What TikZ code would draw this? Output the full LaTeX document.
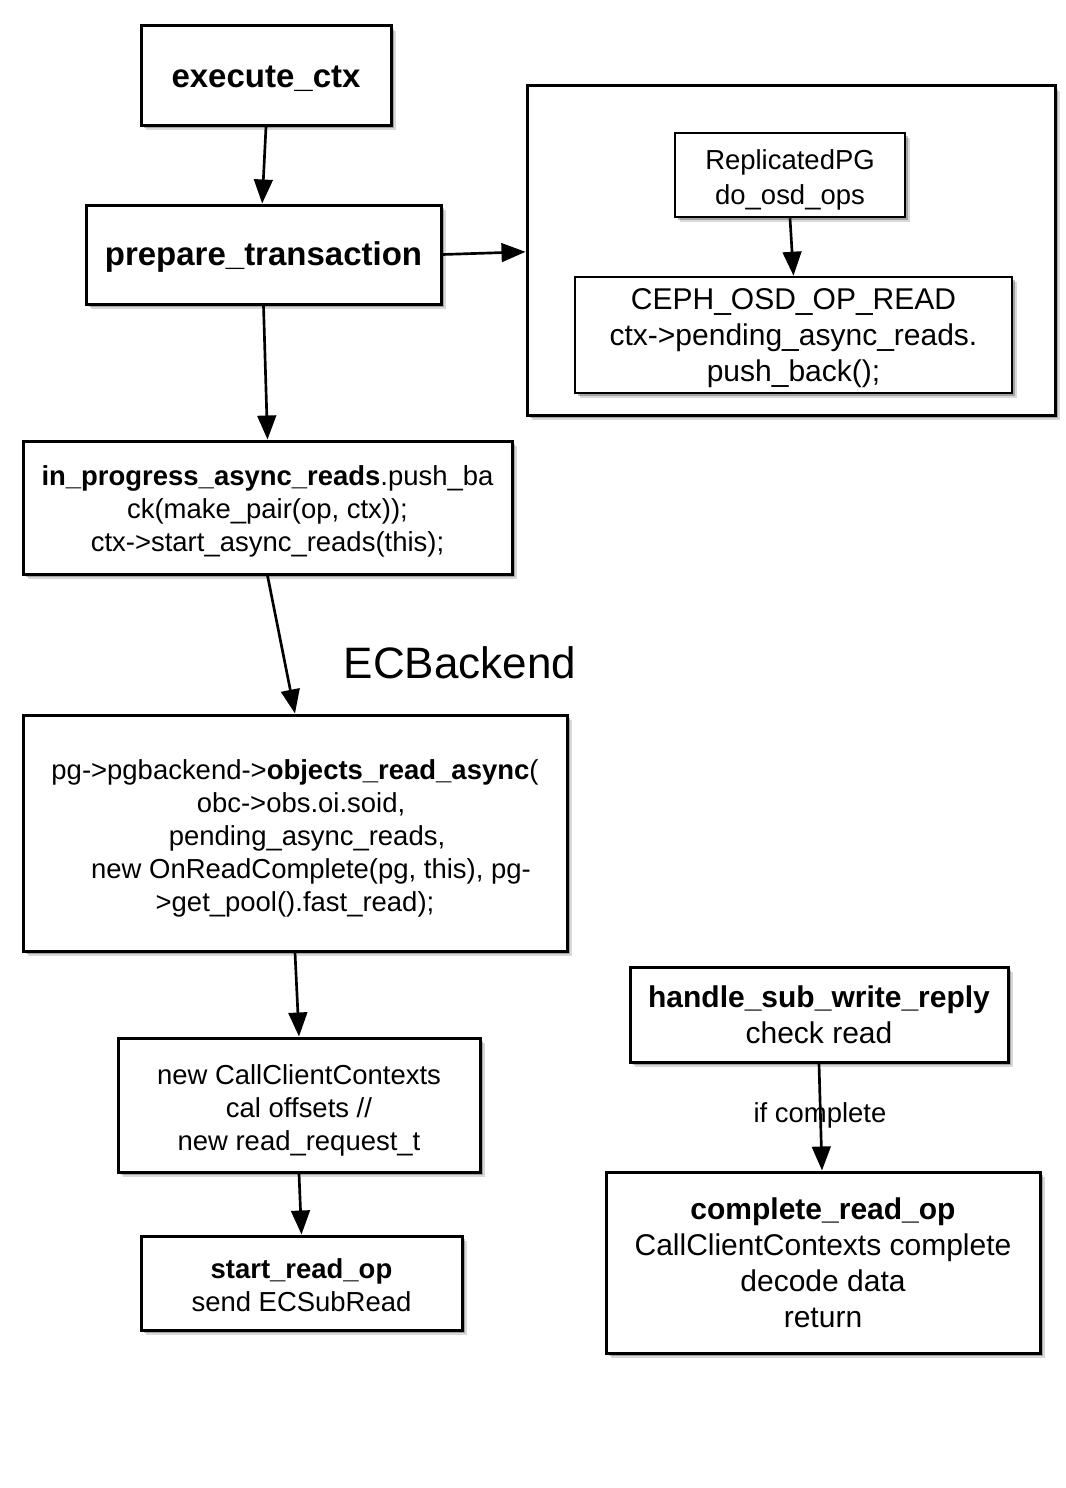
\documentclass[tikz,border=0pt]{standalone}
\usepackage{fontspec}
\setmainfont{Liberation Sans}
\usetikzlibrary{arrows.meta,shadows}
\def\pxu{*0.75pt}
\newcommand\fsbig{\fontsize{24.75pt}{29pt}\selectfont}
\newcommand\fsmid{\fontsize{22.5pt}{27pt}\selectfont}
\newcommand\fsnorm{\fontsize{20.6pt}{24.75pt}\selectfont}
\newcommand\fsnormb{\fontsize{20.6pt}{26.25pt}\selectfont}
\newcommand\fslabel{\fontsize{33pt}{38pt}\selectfont}
% raises the top of the first line, moving the text block down by half the amount
\newcommand\dn[1]{\raisebox{#1}{\vphantom{Ag(}}}
\tikzset{
  box/.style={draw=black, line width=2.25pt, fill=white, inner sep=0pt, align=center,
    drop shadow={shadow xshift=3.5pt, shadow yshift=-3.5pt, fill=black, opacity=0.15},
    drop shadow={shadow xshift=2pt, shadow yshift=-2pt, fill=black, opacity=0.25}},
  thinbox/.style={box, line width=1.9pt},
  arr/.style={line width=2pt, -{Triangle[length=18pt,width=14pt]}},
}
\begin{document}
\begin{tikzpicture}[x=0.75pt,y=-0.75pt]
\path[use as bounding box] (0,0) rectangle (1066,1488);

\node[box, minimum width=250\pxu, minimum height=99\pxu, font=\fsbig\bfseries] (exec) at (266,75.5) {\dn{3.5pt}execute\_ctx};
\node[box, minimum width=355\pxu, minimum height=99\pxu, font=\fsbig\bfseries] (prep) at (263.5,254.5) {\dn{3pt}prepare\_transaction};

\node[box, minimum width=528\pxu, minimum height=329\pxu] (outer) at (791,250.5) {};
\node[thinbox, minimum width=230\pxu, minimum height=84\pxu, font=\fsnormb] (repl) at (790,175) {\dn{7.5pt}ReplicatedPG\\do\_osd\_ops};
\node[thinbox, minimum width=437\pxu, minimum height=116\pxu, font=\fsmid] (ceph) at (793.5,335) {\dn{3.5pt}CEPH\_OSD\_OP\_READ\\ctx->pending\_async\_reads.\\push\_back();};

\node[box, minimum width=489\pxu, minimum height=133\pxu, font=\fsnorm] (inprog) at (267.5,507.5)
  {\dn{6.5pt}\textbf{in\_progress\_async\_reads}.push\_ba\\ck(make\_pair(op, ctx));\\ctx->start\_async\_reads(this);};

\node[font=\fslabel, inner sep=0pt] (ecb) at (460,663) {ECBackend};

\node[box, minimum width=544\pxu, minimum height=236\pxu, font=\fsnorm] (objs) at (295,833)
  {\dn{7.5pt}pg->pgbackend->\textbf{objects\_read\_async}(\\\hspace*{9pt}obc->obs.oi.soid,\\\hspace*{18pt}pending\_async\_reads,\\\hspace*{24pt}new OnReadComplete(pg, this), pg-\\>get\_pool().fast\_read);};

\node[box, minimum width=362\pxu, minimum height=134\pxu, font=\fsnorm] (ccc) at (299,1105)
  {\dn{7.5pt}new CallClientContexts\\cal offsets //\\new read\_request\_t};

\node[box, minimum width=321\pxu, minimum height=94\pxu, font=\fsnorm] (start) at (301.5,1283)
  {\dn{3pt}\textbf{start\_read\_op}\\send ECSubRead};

\node[box, minimum width=378\pxu, minimum height=95\pxu, font=\fsmid] (handle) at (819,1014.5)
  {\textbf{handle\_sub\_write\_reply}\\check read};

\node[box, minimum width=434\pxu, minimum height=181\pxu, font=\fsmid] (complete) at (823,1262.5)
  {\textbf{complete\_read\_op}\\CallClientContexts complete\\decode data\\return};

\node[font=\fsnorm, inner sep=0pt] (ifc) at (820,1115) {if complete};

\draw[arr] (exec.south) -- ([xshift=-1pt]prep.north);
\draw[arr] (prep.east) -- ([yshift=-1pt]outer.west);
\draw[arr] (prep.south) -- (inprog.north);
\draw[arr] (repl.south) -- (ceph.north);
\draw[arr] (inprog.south) -- (objs.north);
\draw[arr] (objs.south) -- (ccc.north);
\draw[arr] (ccc.south) -- (start.north);
\draw[arr] (handle.south) -- ([xshift=-0.75pt]complete.north);
\end{tikzpicture}
\end{document}
